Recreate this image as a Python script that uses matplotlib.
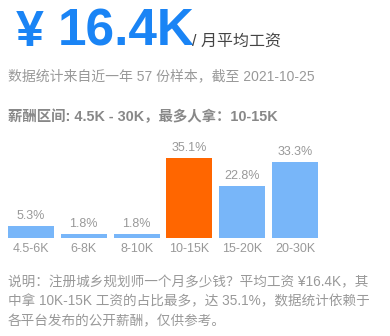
import matplotlib
matplotlib.use("Agg")
import matplotlib.pyplot as plt

plt.rcParams['font.family'] = ['Liberation Sans', 'Noto Sans CJK SC', 'DejaVu Sans']

# salary bands and share of samples (%)
bands = ['4.5-6K', '6-8K', '8-10K', '10-15K', '15-20K', '20-30K']
shares = [5.3, 1.8, 1.8, 35.1, 22.8, 33.3]
top_band = '10-15K'

avg_salary = '16.4K'
n_samples = 57
cutoff = '2021-10-25'

BLUE = '#78b6f9'
ORANGE = '#ff6600'
GREY = '#999999'

fig = plt.figure(figsize=(3.9, 3.36), dpi=100)
W, H = 390, 336

def fy(px):
    return 1 - px / H

# headline
fig.text(16 / W, fy(46), '¥', fontsize=36, fontweight='bold', color='#1a84f5',
         va='baseline', ha='left')
fig.text(58 / W, fy(46), avg_salary, fontsize=37, fontweight='bold', color='#1a84f5',
         va='baseline', ha='left')
fig.text(192 / W, fy(46), '/ 月平均工资', fontsize=11.5, color='#444444',
         va='baseline', ha='left')

fig.text(8 / W, fy(76), '数据统计来自近一年 %d 份样本，截至 %s' % (n_samples, cutoff),
         fontsize=10, color=GREY, va='center', ha='left')
fig.text(8 / W, fy(117), '薪酬区间: 4.5K - 30K，最多人拿：%s' % top_band,
         fontsize=10.4, fontweight='bold', color='#888888', va='center', ha='left')

# bar chart
ax = fig.add_axes([4.6 / W, fy(237.7), (321.4 - 4.6) / W, 91.2 / H])
colors = [ORANGE if b == top_band else BLUE for b in bands]
x = range(len(bands))
ax.bar(x, shares, width=0.87, color=colors)
for i, v in enumerate(shares):
    ax.text(i, v + 1.5, '%.1f%%' % v, ha='center', va='bottom',
            fontsize=9, color=GREY)
ax.set_xlim(-0.5, len(bands) - 0.5)
ax.set_ylim(0, 40)
ax.set_xticks(list(x))
ax.set_xticklabels(bands, fontsize=9, color=GREY)
ax.tick_params(length=0, pad=4)
ax.set_yticks([])
for s in ax.spines.values():
    s.set_visible(False)

# note
note = ['说明：注册城乡规划师一个月多少钱？平均工资 ¥16.4K，其',
        '中拿 10K-15K 工资的占比最多，达 35.1%，数据统计依赖于',
        '各平台发布的公开薪酬，仅供参考。']
for k, line in enumerate(note):
    fig.text(8 / W, fy(282 + 19.5 * k), line, fontsize=9.8, color=GREY,
             va='center', ha='left')

fig.savefig('out.png', dpi=100)
